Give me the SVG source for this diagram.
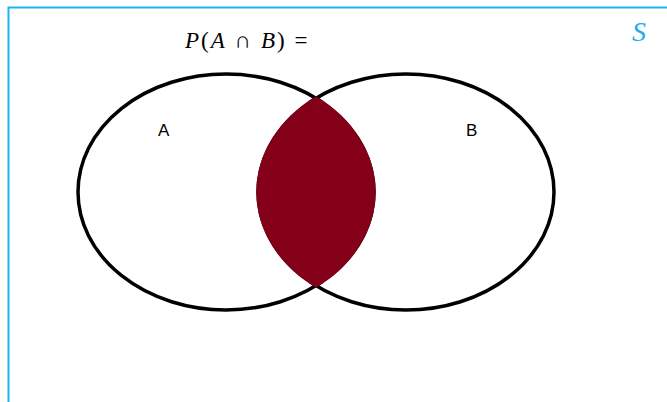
<svg xmlns="http://www.w3.org/2000/svg" width="667" height="402" viewBox="0 0 667 402">
<style>
.set{fill:none;stroke:#000;stroke-width:3.5}
.lbl{font-family:"Liberation Sans",Arial,sans-serif;font-size:17px;fill:#000}
.math{font-family:"Liberation Serif","Times New Roman",serif;font-size:23px;letter-spacing:2px;fill:#000}
.it{font-style:italic}
</style>
<rect width="667" height="402" fill="#fff"/>
<g id="frame">
<path d="M8.5,402 V7.5 H667" fill="none" stroke="#1EB4EE" stroke-width="2"/>
</g>
<g id="title"><text class="math" x="185" y="48" xml:space="preserve"><tspan class="it">P</tspan>(<tspan class="it">A</tspan> ∩ <tspan class="it">B</tspan>) =</text></g>
<g id="universe"><text x="632" y="41" font-family="Liberation Serif,serif" font-style="italic" font-size="28" fill="#1EAEEA">S</text></g>
<g id="setA"><ellipse class="set" cx="226" cy="192" rx="148" ry="118"/><text class="lbl" x="158" y="136">A</text></g>
<g id="setB"><ellipse class="set" cx="406" cy="192" rx="148" ry="118"/><text class="lbl" x="466" y="136">B</text></g>
<g id="intersection"><path d="M316,96.3 A149.75,119.75 0 0 0 316,287.7 A149.75,119.75 0 0 0 316,96.3 Z" fill="#830018"/></g>
</svg>
